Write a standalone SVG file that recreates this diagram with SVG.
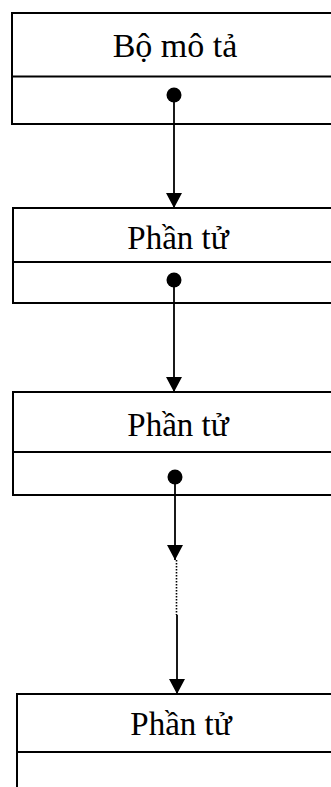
<svg xmlns="http://www.w3.org/2000/svg" width="331" height="787" viewBox="0 0 331 787">
  <style>
    .box { fill: #ffffff; stroke: #000000; stroke-width: 2; }
    .sep { stroke: #000000; stroke-width: 2; }
    .label { font-family: "Liberation Serif", "Times New Roman", serif; font-size: 33px; fill: #000000; text-anchor: middle; }
    .link { stroke: #000000; stroke-width: 1.8; fill: none; }
    .dots { stroke: #000000; stroke-width: 1.6; stroke-dasharray: 1.5 1.5; fill: none; }
  </style>
  <defs>
    <marker id="arrow" markerUnits="userSpaceOnUse" viewBox="0 -8 15 16" refX="15" refY="0" markerWidth="15" markerHeight="16" orient="auto">
      <path d="M0,-8 L15,0 L0,8 z" fill="#000000"/>
    </marker>
    <marker id="dot" markerUnits="userSpaceOnUse" viewBox="-8 -8 16 16" refX="0" refY="0" markerWidth="16" markerHeight="16" orient="auto">
      <circle cx="0" cy="0" r="7.5" fill="#000000"/>
    </marker>
  </defs>

  <rect width="331" height="787" fill="#ffffff"/>

  <!-- descriptor record -->
  <g id="descriptor">
    <rect class="box" x="12" y="13" width="330" height="111"/>
    <line class="sep" x1="12" y1="76.5" x2="342" y2="76.5"/>
    <text class="label" x="175" y="57" style="font-size:34px">Bộ mô tả</text>
  </g>

  <!-- list elements -->
  <g id="element1">
    <rect class="box" x="13" y="208" width="330" height="95"/>
    <line class="sep" x1="13" y1="262" x2="343" y2="262"/>
    <text class="label" x="178" y="249">Phần tử</text>
  </g>

  <g id="element2">
    <rect class="box" x="13" y="392" width="330" height="103"/>
    <line class="sep" x1="13" y1="452" x2="343" y2="452"/>
    <text class="label" x="178" y="436">Phần tử</text>
  </g>

  <g id="element3">
    <rect class="box" x="17" y="694" width="330" height="110"/>
    <line class="sep" x1="17" y1="752" x2="347" y2="752"/>
    <text class="label" x="181" y="735">Phần tử</text>
  </g>

  <!-- pointer links -->
  <g id="links">
    <line class="link" x1="174" y1="95" x2="174" y2="208" marker-start="url(#dot)" marker-end="url(#arrow)"/>
    <line class="link" x1="174" y1="280" x2="174" y2="392" marker-start="url(#dot)" marker-end="url(#arrow)"/>
    <line class="link" x1="175" y1="477" x2="175" y2="560" marker-start="url(#dot)" marker-end="url(#arrow)"/>
    <line class="dots" x1="176.5" y1="560" x2="176.5" y2="615"/>
    <line class="link" x1="177" y1="615" x2="177" y2="694" marker-end="url(#arrow)"/>
  </g>
</svg>
